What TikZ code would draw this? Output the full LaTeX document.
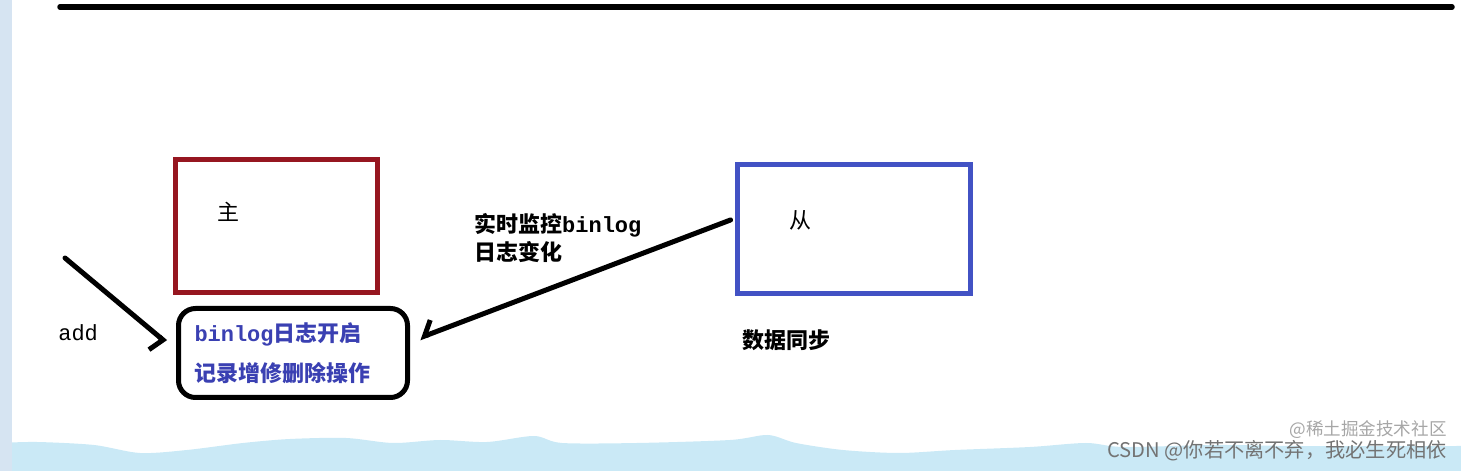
\documentclass[tikz,border=0pt]{standalone}
\usepackage{fontspec}
\setmonofont{Liberation Mono}
\newfontfamily\cjk{Noto Sans CJK SC}
\usetikzlibrary{calc,arrows.meta}
\definecolor{masterred}{RGB}{150,22,32}
\definecolor{slaveblue}{RGB}{66,82,196}
\definecolor{logblue}{RGB}{58,64,178}
\definecolor{stripblue}{RGB}{214,228,242}
\definecolor{waveblue}{RGB}{202,233,246}
\def\mono#1{{\ttfamily\bfseries #1}}
\tikzset{
	box/.style={draw, line width=1mm, inner sep=0pt},
	txt/.style={font=\cjk\fontsize{12.5pt}{15pt}\selectfont, inner sep=0pt, anchor=west},
	hand/.style={line width=1mm, line cap=round, line join=round}
}

\begin{document}
\begin{tikzpicture}
		%%%%% START %%%%%
		
		\useasboundingbox (0, 0) rectangle (29.22, 9.42);
		
		\fill[waveblue] (0, 0) -- plot[smooth] coordinates {(0, 0.56) (0.74, 0.58) (1.88, 0.52) (2.8, 0.36) (3.74, 0.42) (4.86, 0.56) (5.8, 0.64) (6.92, 0.66) (7.86, 0.56) (8.8, 0.62) (9.74, 0.58) (10.68, 0.70) (11.24, 0.56) (12.74, 0.56) (14.6, 0.62) (15.36, 0.72) (15.92, 0.56) (16.86, 0.42) (17.98, 0.36) (19.1, 0.42) (20.6, 0.48) (21.72, 0.56) (22.48, 0.48) (24.34, 0.52) (26, 0.5) (29.22, 0.5)} -- (29.22, 0) -- cycle;
		\fill[stripblue] (0, 0) rectangle (0.24, 9.42);
		
		\draw[line width=1.1mm, line cap=round] (1.2, 9.28) -- (29.04, 9.28);
		
		\node[box, color=masterred, minimum width=4.04cm, minimum height=2.66cm] (master) at (5.52, 4.90) {};
		\node[txt] (mastertxt) at (4.34, 5.18) {主};
		
		\node[box, color=slaveblue, minimum width=4.66cm, minimum height=2.58cm] (slave) at (17.08, 4.84) {};
		\node[txt] (slavetxt) at (15.78, 5.02) {从};
		
		\node[box, rounded corners=0.34cm, text=logblue, align=left, text width=3.94cm, inner xsep=0.32cm, minimum height=1.78cm, font=\cjk\bfseries\fontsize{12.5pt}{22.7pt}\selectfont] (binlog) at (5.86, 2.36) {\mono{binlog}日志开启\\记录增修删除操作};
		
		\node[txt, font=\ttfamily\fontsize{12.5pt}{15pt}\selectfont] (add) at (1.16, 2.76) {add};
		\node[txt, align=left, font=\cjk\bfseries\fontsize{12.5pt}{15.9pt}\selectfont] (watch) at (9.48, 4.66) {实时监控\mono{binlog}\\日志变化};
		\node[txt, font=\cjk\bfseries\fontsize{12.5pt}{15pt}\selectfont] (sync) at (14.84, 2.62) {数据同步};
		
		\coordinate (addfrom) at (1.30, 4.26);
		\draw[hand, -{Straight Barb[right, length=0.9mm, width=6.6mm]}] (addfrom) -- ($(binlog.west)+(-0.21, 0.22)$);
		\draw[hand, -{Straight Barb[right, length=2.2mm, width=5.2mm]}] ($(slave.west)+(-0.09, 0.18)$) -- ($(binlog.east)+(0.19, 0.30)$);
		
		\node[anchor=east, inner sep=0pt, text=black!35, font=\cjk\fontsize{10pt}{12pt}\selectfont] (juejin) at (28.94, 0.82) {@稀土掘金技术社区};
		\node[anchor=east, inner sep=0pt, text=black!55, font=\cjk\fontsize{11.5pt}{14pt}\selectfont] (csdn) at (28.94, 0.40) {CSDN @你若不离不弃，我必生死相依};
		
		%%%%% END %%%%%
\end{tikzpicture}
\end{document}
